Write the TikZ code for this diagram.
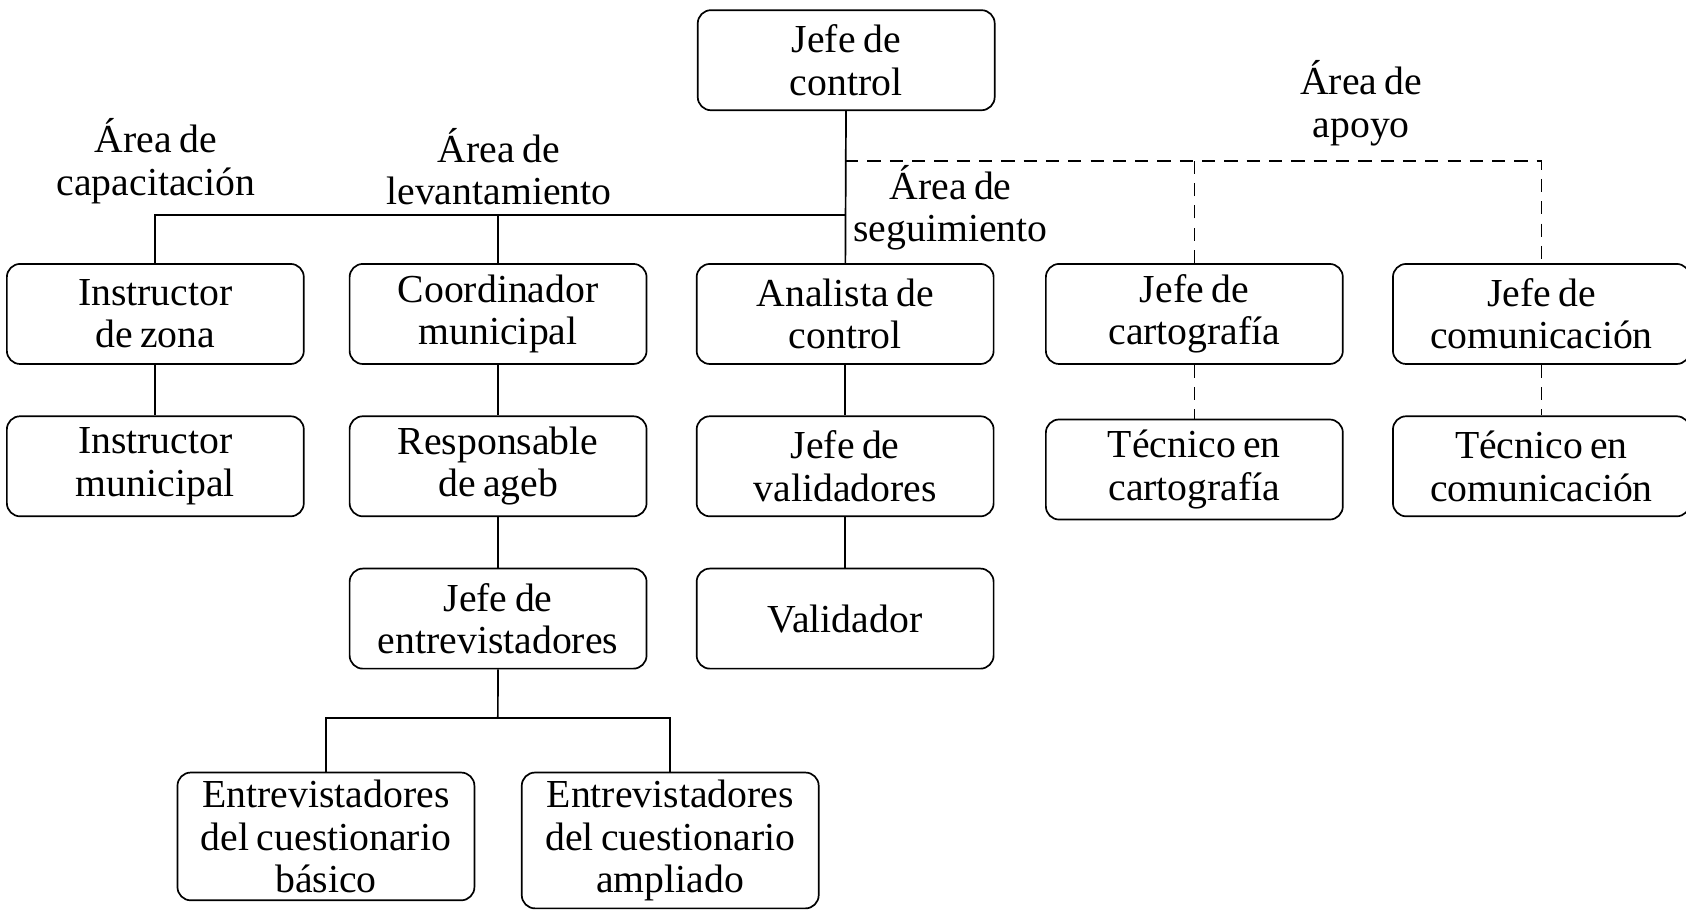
\documentclass[tikz,border=0pt]{standalone}
\usepackage{fontspec}
\setmainfont{Liberation Serif}[WordSpace=0.75]
\usepackage{tikz}
\usetikzlibrary{positioning}

\begin{document}
\begin{tikzpicture}[
  x=0.01cm, y=-0.01cm,
  node distance=0.47cm and 0.45cm,
  every node/.style={font=\fontsize{10.5}{11.2}\selectfont},
  mybox/.style={draw,rectangle,rounded corners=3.5pt,line width=0.45pt,align=center,minimum width=2.76cm,minimum height=0.93cm,inner sep=2pt},
  mylabel/.style={align=center,inner sep=0pt},
  dashline/.style={dash pattern=on 3.5pt off 2.4pt}
]
\useasboundingbox (0,0) rectangle (1568,846);
\node[mybox] (jc) at (787,56) {Jefe de\\control};
\node[mybox] (ac) at (786,292) {Analista de\\control};
\node[mybox, left=0.45cm of ac] (cm) {Coordinador\\municipal};
\node[mybox, left=0.41cm of cm] (iz) {Instructor\\de zona};
\node[mybox, right=0.47cm of ac] (jcar) {Jefe de\\cartografía};
\node[mybox, right=0.45cm of jcar] (jcom) {Jefe de\\comunicación};
\node[mybox, below=of iz] (im) {Instructor\\municipal};
\node[mybox, below=of cm] (ra) {Responsable\\de ageb};
\node[mybox, below=of ac] (jv) {Jefe de\\validadores};
\node[mybox, below=0.5cm of jcar] (tcar) {Técnico en\\cartografía};
\node[mybox, below=of jcom] (tcom) {Técnico en\\comunicación};
\node[mybox, below=of ra] (je) {Jefe de\\entrevistadores};
\node[mybox, below=of jv] (va) {Validador};
\node[mybox, below=0.95cm of je, xshift=-1.6cm] (eb) {Entrevistadores\\del cuestionario\\básico};
\node[mybox, below=0.95cm of je, xshift=1.6cm] (ea) {Entrevistadores\\del cuestionario\\ampliado};
\node[mylabel] (lcap) at (145,150) {Área de\\capacitación};
\node[mylabel] (llev) at (464,155) {Área de\\levantamiento};
\node[mylabel] (lseg) at (884,193) {Área de\\seguimiento};
\node[mylabel] (lapo) at (1266,96) {Área de\\apoyo};
\coordinate (cbar) at (786,200);
\coordinate (dbar) at (786,150);
\coordinate (ebar) at (463,668);
\begin{scope}[line width=0.45pt]
\draw (jc) -- (ac);
\draw (iz.north) -- (iz.north |- cbar) -- (cbar);
\draw (cm.north) -- (cm.north |- cbar);
\draw[dashline] (dbar) -| (jcom.north);
\draw[dashline] (jcar.north) -- (jcar.north |- dbar);
\draw (iz) -- (im);
\draw (cm) -- (ra);
\draw (ac) -- (jv);
\draw[dashline] (jcar) -- (tcar);
\draw[dashline] (jcom) -- (tcom);
\draw (ra) -- (je);
\draw (jv) -- (va);
\draw (je) -- (ebar);
\draw (eb.north) |- (ebar) -| (ea.north);
\end{scope}
\end{tikzpicture}
\end{document}
